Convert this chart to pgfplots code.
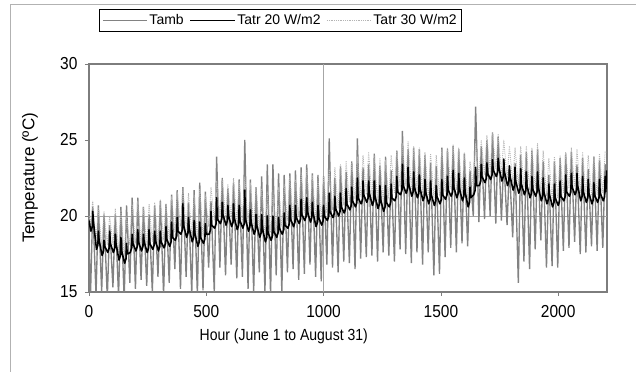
\documentclass[border=0pt]{standalone}
\usepackage{pgfplots}
\usepackage{pgfplotstable}
\usepackage{fontspec}
\setmainfont{Liberation Sans}
\pgfplotsset{compat=1.18}
\definecolor{ambgray}{RGB}{130,130,130}
\definecolor{t30gray}{RGB}{180,180,180}
\definecolor{framegray}{RGB}{125,125,125}
\pgfplotstableread{
h Ta T30
0 18.5 20.0
6 14.5 19.5
16 20.6 21.0
30 14.8 18.3
40 20.7 20.6
54 15.0 17.9
64 20.1 20.3
78 14.6 18.1
88 19.4 20.0
102 15.3 18.1
112 20.1 20.5
126 14.7 17.6
136 20.6 20.4
150 14.5 17.4
160 20.7 20.0
174 15.6 18.1
184 21.2 20.8
198 15.2 18.2
208 21.2 21.0
222 15.8 18.2
232 20.6 20.6
246 15.4 18.1
256 20.1 20.8
270 15.0 18.3
280 20.7 20.9
294 16.0 18.2
304 21.0 21.1
318 14.8 18.4
328 20.8 20.8
342 15.6 18.5
352 21.4 21.3
366 16.5 18.9
376 21.7 21.6
390 15.2 19.3
400 21.9 21.9
414 16.0 19.1
424 20.9 21.5
438 14.9 18.8
448 21.7 21.4
462 14.8 18.5
472 22.2 21.8
486 15.1 18.7
496 21.6 21.4
510 16.6 19.3
520 21.0 21.9
534 15.0 19.7
544 23.9 22.3
558 16.6 20.0
568 22.5 22.4
582 16.1 19.9
592 21.8 22.1
606 16.8 19.8
616 22.2 22.5
630 15.9 19.6
640 22.4 22.3
654 16.0 19.7
664 25.0 22.6
678 15.2 19.5
688 22.4 22.2
702 15.0 19.3
712 21.9 21.9
726 16.3 19.1
736 22.6 21.8
750 15.0 18.8
760 23.4 21.6
774 14.8 18.9
784 23.4 21.7
798 16.1 19.1
808 22.8 21.9
822 15.0 19.3
832 22.7 22.1
846 16.3 19.7
856 22.8 22.6
870 16.5 19.8
880 23.0 22.4
894 15.8 20.0
904 23.2 22.9
918 16.2 20.2
928 23.4 23.0
942 16.8 20.1
952 22.8 22.7
966 16.0 19.8
976 22.7 22.5
990 15.7 19.9
1000 22.6 22.6
1014 16.8 20.2
1024 25.1 23.1
1038 16.6 20.4
1048 22.5 23.2
1062 16.3 20.5
1072 23.3 23.4
1086 17.0 20.7
1096 22.9 23.6
1110 16.9 20.9
1120 23.6 23.5
1134 16.5 21.1
1144 25.1 23.9
1158 17.2 21.3
1168 23.2 24.0
1182 17.3 21.4
1192 23.4 24.2
1206 17.4 21.2
1216 24.1 24.0
1230 17.0 21.0
1240 23.3 23.8
1254 17.6 20.8
1264 23.9 23.7
1278 17.4 21.1
1288 23.0 24.0
1302 17.0 21.5
1312 24.3 24.3
1326 17.8 21.9
1336 25.6 24.8
1350 17.5 22.0
1360 24.4 24.9
1374 16.9 21.8
1384 24.5 24.6
1398 17.6 21.7
1408 24.4 24.5
1422 16.8 21.5
1432 24.0 24.2
1446 17.6 21.3
1456 23.5 24.1
1470 16.1 21.2
1480 23.3 24.0
1494 16.2 21.3
1504 24.5 24.4
1518 17.3 21.6
1528 24.4 24.5
1542 17.9 21.8
1552 24.6 24.7
1566 17.6 21.7
1576 24.4 24.5
1590 18.2 21.5
1600 24.1 24.2
1614 18.0 21.1
1624 23.0 23.6
1638 20.0 21.9
1648 27.2 24.9
1662 19.6 22.5
1672 24.6 25.0
1686 19.8 22.7
1696 25.0 25.3
1710 20.0 22.9
1720 25.5 25.5
1734 19.5 23.1
1744 25.2 25.4
1758 19.7 22.8
1768 23.8 25.0
1782 19.4 22.5
1792 23.3 24.6
1806 18.6 22.2
1816 23.5 24.5
1830 15.6 22.0
1840 24.0 24.6
1854 17.0 21.9
1864 24.2 24.6
1878 16.5 21.7
1888 24.3 24.5
1902 17.8 21.8
1912 24.4 24.8
1926 18.4 21.5
1936 23.6 24.3
1950 16.6 21.3
1960 22.7 23.8
1974 16.7 21.1
1984 23.6 23.9
1998 16.6 21.2
2008 23.8 24.0
2022 17.7 21.5
2032 24.1 24.2
2046 17.9 21.8
2056 24.2 24.5
2070 18.3 21.9
2080 23.4 24.4
2094 17.5 21.5
2104 23.8 24.2
2118 17.6 21.4
2128 23.1 24.0
2142 18.0 21.3
2152 23.9 23.9
2166 17.7 21.4
2176 23.7 24.1
2190 17.9 21.5
2200 23.4 24.2
2207 22.5 24.2
}\ambtable
\pgfplotstableread{
h T20
0 19.7
8 19.0
14 19.3
16 20.3
19 19.6
32 17.8
38 18.1
40 19.0
43 18.4
56 17.4
62 17.7
64 18.4
67 18.0
80 17.6
86 17.9
88 19.0
91 18.2
104 17.6
110 17.9
112 18.8
115 18.2
128 17.1
134 17.4
136 18.6
139 17.7
152 16.9
158 17.2
160 18.2
163 17.5
176 17.6
182 17.9
184 18.8
187 18.2
200 17.7
206 18.0
208 19.1
211 18.3
224 17.7
230 18.0
232 18.8
235 18.3
248 17.6
254 17.9
256 19.1
259 18.2
272 17.8
278 18.1
280 19.0
283 18.4
296 17.7
302 18.0
304 19.0
307 18.3
320 17.9
326 18.2
328 19.3
331 18.5
344 18.0
350 18.3
352 19.6
355 18.6
368 18.4
374 18.7
376 19.9
379 19.0
392 18.8
398 19.1
400 20.8
403 19.4
416 18.6
422 18.9
424 19.9
427 19.2
440 18.3
446 18.6
448 19.7
451 18.9
464 18.0
470 18.3
472 19.6
475 18.6
488 18.2
494 18.5
496 19.5
499 18.8
512 18.8
518 19.1
520 20.3
523 19.4
536 19.2
542 19.5
544 21.2
547 19.8
560 19.5
566 19.8
568 20.9
571 20.1
584 19.4
590 19.7
592 20.7
595 20.0
608 19.3
614 19.6
616 20.8
619 19.9
632 19.1
638 19.4
640 20.7
643 19.7
656 19.2
662 19.5
664 21.7
667 19.8
680 19.0
686 19.3
688 20.4
691 19.6
704 18.8
710 19.1
712 20.1
715 19.4
728 18.6
734 18.9
736 20.1
739 19.2
752 18.3
758 18.6
760 20.0
763 18.9
776 18.4
782 18.7
784 20.0
787 19.0
800 18.6
806 18.9
808 19.9
811 19.2
824 18.8
830 19.1
832 20.2
835 19.4
848 19.2
854 19.5
856 20.7
859 19.8
872 19.3
878 19.6
880 20.7
883 19.9
896 19.5
902 19.8
904 21.1
907 20.1
920 19.7
926 20.0
928 21.2
931 20.3
944 19.6
950 19.9
952 20.9
955 20.2
968 19.3
974 19.6
976 20.7
979 19.9
992 19.4
998 19.7
1000 20.7
1003 20.0
1016 19.7
1022 20.0
1024 21.5
1027 20.3
1040 19.9
1046 20.2
1048 21.3
1051 20.5
1064 20.0
1070 20.3
1072 21.5
1075 20.6
1088 20.2
1094 20.5
1096 21.8
1099 20.8
1112 20.4
1118 20.7
1120 21.9
1123 21.0
1136 20.6
1142 20.9
1144 22.5
1147 21.2
1160 20.8
1166 21.1
1168 22.3
1171 21.4
1184 20.9
1190 21.2
1192 22.3
1195 21.5
1208 20.7
1214 21.0
1216 22.3
1219 21.3
1232 20.5
1238 20.8
1240 22.0
1243 21.1
1256 20.3
1262 20.6
1264 22.0
1267 20.9
1280 20.6
1286 20.9
1288 22.1
1291 21.2
1304 21.0
1310 21.3
1312 22.6
1315 21.6
1328 21.4
1334 21.7
1336 23.4
1339 22.0
1352 21.5
1358 21.8
1360 23.2
1363 22.1
1376 21.3
1382 21.6
1384 22.9
1387 21.9
1400 21.2
1406 21.5
1408 22.7
1411 21.8
1424 21.0
1430 21.3
1432 22.4
1435 21.6
1448 20.8
1454 21.1
1456 22.3
1459 21.4
1472 20.7
1478 21.0
1480 22.0
1483 21.3
1496 20.8
1502 21.1
1504 22.4
1507 21.4
1520 21.1
1526 21.4
1528 22.6
1531 21.7
1544 21.3
1550 21.6
1552 23.0
1555 21.9
1568 21.2
1574 21.5
1576 22.8
1579 21.8
1592 21.0
1598 21.3
1600 22.5
1603 21.6
1616 20.6
1622 20.9
1624 21.9
1627 21.2
1640 21.4
1646 21.7
1648 23.2
1651 22.0
1664 22.0
1670 22.3
1672 23.4
1675 22.6
1688 22.2
1694 22.5
1696 23.5
1699 22.8
1712 22.4
1718 22.7
1720 23.7
1723 23.0
1736 22.6
1742 22.9
1744 23.8
1747 23.2
1760 22.3
1766 22.6
1768 23.7
1771 22.9
1784 22.0
1790 22.3
1792 23.3
1795 22.6
1808 21.7
1814 22.0
1816 23.2
1819 22.3
1832 21.5
1838 21.8
1840 23.1
1843 22.1
1856 21.4
1862 21.7
1864 22.9
1867 22.0
1880 21.2
1886 21.5
1888 22.6
1891 21.8
1904 21.3
1910 21.6
1912 22.9
1915 21.9
1928 21.0
1934 21.3
1936 22.5
1939 21.6
1952 20.8
1958 21.1
1960 22.1
1963 21.4
1976 20.6
1982 20.9
1984 22.1
1987 21.2
2000 20.7
2006 21.0
2008 22.3
2011 21.3
2024 21.0
2030 21.3
2032 22.7
2035 21.6
2048 21.3
2054 21.6
2056 22.8
2059 21.9
2072 21.4
2078 21.7
2080 22.8
2083 22.0
2096 21.0
2102 21.3
2104 22.6
2107 21.6
2120 20.9
2126 21.2
2128 22.4
2131 21.5
2144 20.8
2150 21.1
2152 22.2
2155 21.4
2168 20.9
2174 21.2
2176 22.4
2179 21.5
2192 21.0
2198 21.3
2200 22.6
2203 21.6
2207 23.0
}\blacktable
\begin{document}
\begin{tikzpicture}
\useasboundingbox (0,0) rectangle (638pt,372pt);
\draw[gray!60, line width=0.6pt] (10pt,0) -- (10pt,368pt) -- (636pt,368pt);
\begin{axis}[
  at={(89pt,80pt)}, anchor=south west,
  scale only axis, width=518pt, height=228pt,
  xmin=0, xmax=2208, ymin=15, ymax=30,
  xtick={0,500,1000,1500,2000},
  ytick={15,20,25,30},
  tick pos=left, tick align=outside,
  major tick length=4pt,
  tick style={framegray, line width=0.8pt},
  axis line style={framegray, line width=1.3pt},
  /pgf/number format/assume math mode=true,
  /pgf/number format/1000 sep={},
  ticklabel style={font=\fontsize{15.5}{18}\selectfont, yscale=1.12},
  xticklabel style={yshift=-5pt},
  yticklabel style={xshift=-4pt},
  extra x ticks={1000}, extra x tick labels={},
  extra y ticks={20}, extra y tick labels={},
  extra tick style={grid=major, major grid style={gray!70, line width=0.7pt}, major tick length=0pt},
  xlabel={Hour (June 1 to August 31)},
  ylabel={Temperature (ºC)},
  xlabel style={font=\fontsize{14}{17}\selectfont, yscale=1.15, at={(axis description cs:0.376,-0.193)}, anchor=center},
  ylabel style={font=\fontsize{17}{20}\selectfont, at={(axis description cs:-0.114,0.5)}, anchor=center},
  legend columns=3,
  legend style={at={(0.3697,1.1908)}, anchor=center, draw=black, line width=0.5pt,
    font=\fontsize{14}{17}\selectfont, inner sep=3pt,
    /tikz/every even column/.append style={column sep=4pt}},
  legend cell align=left,
  legend image code/.code={\draw[#1] (0cm,0cm) -- (1.55cm,0cm);},
]
\addplot[ambgray, line width=1.35pt, forget plot] table[x=h, y=Ta] {\ambtable};
\addplot[t30gray, line width=0.9pt, densely dotted, forget plot] table[x=h, y=T30] {\ambtable};
\addplot[black, line width=1.6pt, line join=round, forget plot] table[x=h, y=T20] {\blacktable};
\addlegendimage{ambgray, line width=1.1pt}
\addlegendentry{Tamb}
\addlegendimage{black, line width=1.5pt}
\addlegendentry{Tatr 20 W/m2}
\addlegendimage{t30gray, line width=0.8pt, densely dotted}
\addlegendentry{Tatr 30 W/m2}
\end{axis}
\end{tikzpicture}
\end{document}
